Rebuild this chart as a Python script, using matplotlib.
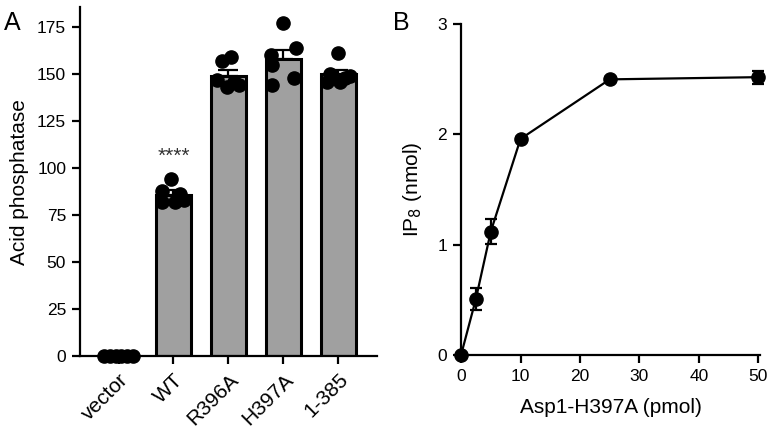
import matplotlib
matplotlib.use('Agg')
import matplotlib.pyplot as plt
import numpy as np

plt.rcParams['font.family'] = ['Liberation Sans', 'DejaVu Sans']

# panel A: acid phosphatase per construct
groups = ['vector', 'WT', 'R396A', 'H397A', '1-385']
vector_pts = [0, 0, 0, 0, 0, 0]
wt_pts = [94, 88, 82, 82, 83, 86]
r396a_pts = [157, 159, 147, 143, 144, 146]
h397a_pts = [177, 164, 160, 155, 148, 144]
trunc_pts = [161, 150, 146, 146, 149, 148]
bar_means = [0, 85.6, 149, 157.8, 150]
bar_sem = [0, 2.5, 3.0, 5.0, 2.3]

# panel B: IP8 made vs enzyme amount
amount = [0, 2.5, 5, 10, 25, 50]
ip8 = [0, 0.51, 1.12, 1.96, 2.50, 2.52]
ip8_err = [0, 0.10, 0.11, 0.02, 0.02, 0.06]

# horizontal spread of the scatter points inside each bar
jitter = [
    [-0.26, -0.16, -0.05, 0.05, 0.16, 0.26],
    [-0.04, -0.2, -0.2, 0.02, 0.2, 0.12],
    [-0.12, 0.05, -0.2, -0.02, 0.2, 0.1],
    [0.0, 0.23, -0.22, -0.2, 0.2, -0.2],
    [0.0, -0.15, -0.2, 0.03, 0.22, 0.12],
]

fig = plt.figure(figsize=(7.71, 4.29), dpi=100)
axA = fig.add_axes([0.1038, 0.170, 0.385, 0.813])
axB = fig.add_axes([0.598, 0.1725, 0.388, 0.771])

lw = 1.6
x = np.arange(len(groups))
axA.bar(x, bar_means, width=0.64, color='#a0a0a0', edgecolor='black',
        linewidth=2.2, zorder=1)
all_pts = [vector_pts, wt_pts, r396a_pts, h397a_pts, trunc_pts]
for i, pts in enumerate(all_pts):
    axA.plot(i + np.array(jitter[i]), pts, 'o', color='black', ms=9.5,
             zorder=3, clip_on=False)
axA.errorbar(x, bar_means, yerr=[np.zeros(len(x)), bar_sem], fmt='none',
             ecolor='black', elinewidth=lw, capsize=7, capthick=lw, zorder=4)
axA.text(1, 106, '****', ha='center', va='center', fontsize=15, color='#333333')

axA.set_xlim(-0.7, 4.7)
axA.set_ylim(0, 185.5)
axA.set_yticks([0, 25, 50, 75, 100, 125, 150, 175])
axA.set_xticks(x)
axA.set_xticklabels(groups, rotation=45, ha='right', rotation_mode='anchor',
                    fontsize=15)
axA.set_ylabel('Acid phosphatase', fontsize=15, labelpad=6)

axB.errorbar(amount, ip8, yerr=ip8_err, fmt='-o', color='black', lw=lw,
             ms=9.5, elinewidth=lw, capsize=4.5, capthick=lw, clip_on=False,
             zorder=3)
axB.set_xlim(0, 50.3)
axB.set_ylim(0, 3)
axB.set_xticks([0, 10, 20, 30, 40, 50])
axB.set_yticks([0, 1, 2, 3])
axB.set_xlabel('Asp1-H397A (pmol)', fontsize=15, labelpad=10)
axB.set_ylabel('IP$_8$ (nmol)', fontsize=15, labelpad=10)

for ax in (axA, axB):
    ax.spines['top'].set_visible(False)
    ax.spines['right'].set_visible(False)
    ax.spines['left'].set_linewidth(lw)
    ax.spines['bottom'].set_linewidth(lw)
    ax.tick_params(width=lw, length=6, pad=4)
    ax.tick_params(axis='y', labelsize=12.5)
axB.tick_params(axis='x', labelsize=12.5)

fig.text(0.005, 0.975, 'A', fontsize=18, va='top')
fig.text(0.510, 0.975, 'B', fontsize=18, va='top')

fig.savefig('out.png', dpi=100)
